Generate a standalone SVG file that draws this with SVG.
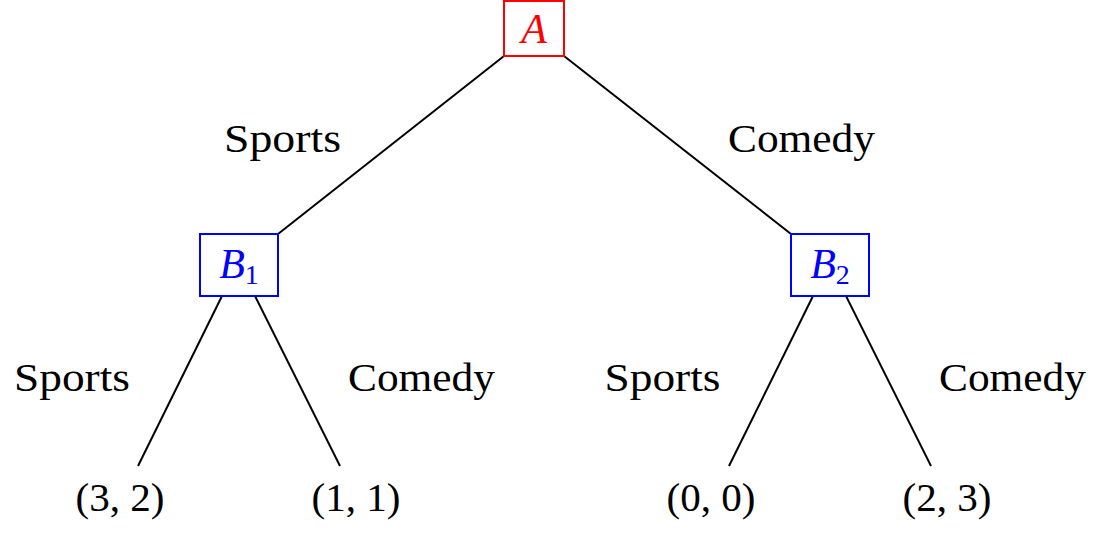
<svg xmlns="http://www.w3.org/2000/svg" width="1100" height="536" viewBox="0 0 1100 536">
<style>
.lbl{font-family:"Liberation Serif","Times New Roman",serif;font-size:39px;fill:#000;text-anchor:middle}
.math{font-family:"Liberation Serif","Times New Roman",serif;font-size:42px;font-style:italic;text-anchor:middle}
.sub{font-style:normal;font-size:28px}
.edge{stroke:#000;stroke-width:2;fill:none}
.boxr{fill:#fff;stroke:#f00;stroke-width:2}
.boxb{fill:#fff;stroke:#00f;stroke-width:2}
</style>
<rect width="1100" height="536" fill="#fff"/>
<g id="connectors">
<line class="edge" x1="504" y1="56" x2="278" y2="234"/>
<line class="edge" x1="564" y1="56" x2="791" y2="234"/>
<line class="edge" x1="222" y1="296" x2="138" y2="466"/>
<line class="edge" x1="255" y1="296" x2="340" y2="466"/>
<line class="edge" x1="813" y1="296" x2="729" y2="466"/>
<line class="edge" x1="846" y1="296" x2="931" y2="466"/>
</g>
<g id="edge-labels">
<text class="lbl" x="282.5" y="152" textLength="117" lengthAdjust="spacingAndGlyphs">Sports</text>
<text class="lbl" x="801.5" y="152" textLength="147" lengthAdjust="spacingAndGlyphs">Comedy</text>
<text class="lbl" x="72" y="391" textLength="116" lengthAdjust="spacingAndGlyphs">Sports</text>
<text class="lbl" x="421.5" y="391" textLength="147" lengthAdjust="spacingAndGlyphs">Comedy</text>
<text class="lbl" x="662.5" y="391" textLength="116" lengthAdjust="spacingAndGlyphs">Sports</text>
<text class="lbl" x="1012.5" y="391" textLength="147" lengthAdjust="spacingAndGlyphs">Comedy</text>
</g>
<g id="node-A">
<rect class="boxr" x="504" y="1" width="60" height="55"/>
<text class="math" x="534" y="43" fill="#f00">A</text>
</g>
<g id="node-B1">
<rect class="boxb" x="200" y="234" width="78" height="62"/>
<text class="math" x="239" y="278" fill="#00f">B<tspan class="sub" dy="6">1</tspan></text>
</g>
<g id="node-B2">
<rect class="boxb" x="791" y="234" width="78" height="62"/>
<text class="math" x="830" y="278" fill="#00f">B<tspan class="sub" dy="6">2</tspan></text>
</g>
<g id="leaf-1"><text class="lbl" x="120" y="511" textLength="89" lengthAdjust="spacingAndGlyphs">(3, 2)</text></g>
<g id="leaf-2"><text class="lbl" x="356" y="511" textLength="89" lengthAdjust="spacingAndGlyphs">(1, 1)</text></g>
<g id="leaf-3"><text class="lbl" x="711" y="511" textLength="89" lengthAdjust="spacingAndGlyphs">(0, 0)</text></g>
<g id="leaf-4"><text class="lbl" x="947" y="511" textLength="89" lengthAdjust="spacingAndGlyphs">(2, 3)</text></g>
</svg>
